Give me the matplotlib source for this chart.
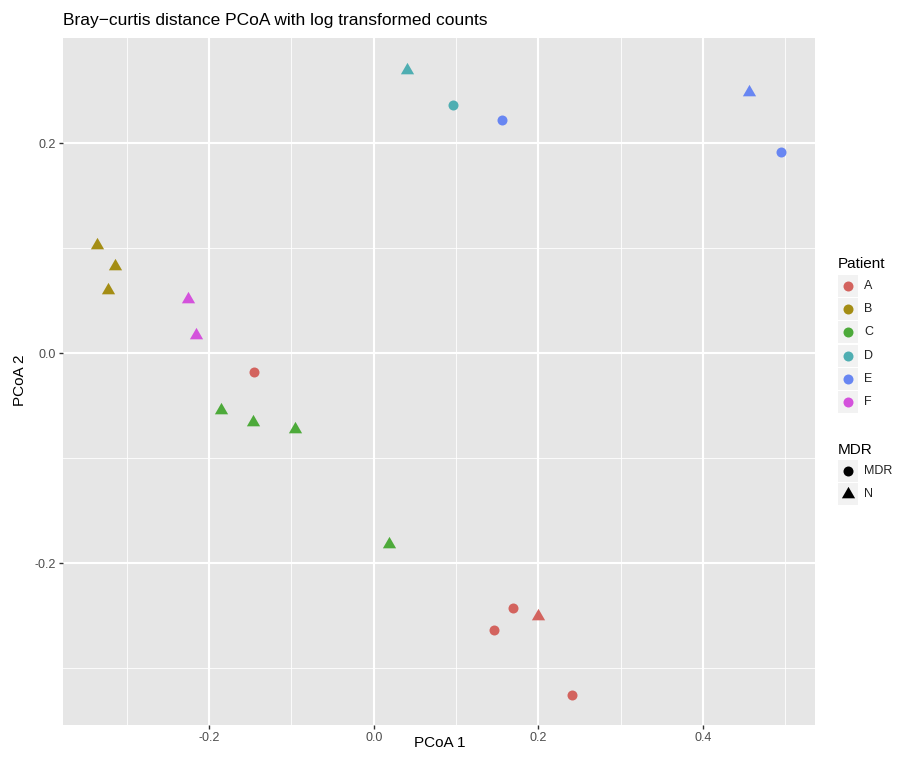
import matplotlib
matplotlib.use("Agg")
import matplotlib.pyplot as plt
from matplotlib.patches import Rectangle
import numpy as np

plt.rcParams['font.family'] = ['Liberation Sans', 'DejaVu Sans']
plt.rcParams['axes.unicode_minus'] = False

# ---- data ----
patients = ["A", "B", "C", "D", "E", "F"]
patient_colors = ["#D3635E", "#A48D14", "#4DAA3A", "#4FAEB2", "#6886F2", "#D452DC"]
mdr_levels = ["MDR", "N"]

sample_patient = ["A", "A", "A", "A", "A",
                  "B", "B", "B",
                  "C", "C", "C", "C",
                  "D", "D",
                  "E", "E", "E",
                  "F", "F"]
sample_mdr = ["MDR", "MDR", "MDR", "MDR", "N",
              "N", "N", "N",
              "N", "N", "N", "N",
              "N", "MDR",
              "MDR", "MDR", "N",
              "N", "N"]
pcoa1 = [-0.145, 0.169, 0.146, 0.241, 0.199,
         -0.336, -0.314, -0.323,
         -0.186, -0.147, -0.096, 0.018,
         0.040, 0.096,
         0.156, 0.495, 0.456,
         -0.226, -0.216]
pcoa2 = [-0.018, -0.243, -0.264, -0.325, -0.250,
         0.103, 0.083, 0.060,
         -0.054, -0.066, -0.072, -0.182,
         0.270, 0.236,
         0.222, 0.191, 0.249,
         0.052, 0.017]

x_ticks = [-0.2, 0.0, 0.2, 0.4]
y_ticks = [-0.2, 0.0, 0.2]

title = "Bray\u2212curtis distance PCoA with log transformed counts"

# ---- figure ----
W, H = 897, 760
fig = plt.figure(figsize=(W / 100, H / 100), dpi=100)
L, R, T, B = 63, 815, 38, 725
ax = fig.add_axes([L / W, 1 - B / H, (R - L) / W, (B - T) / H])

tri = [(-1.0, -0.5774), (1.0, -0.5774), (0.0, 1.1547), (-1.0, -0.5774)]
shape_map = {"MDR": ("o", 7.2), "N": (tri, 11.0)}
cmap = dict(zip(patients, patient_colors))

ax.set_facecolor("#E6E6E6")
for x, y, p, m in zip(pcoa1, pcoa2, sample_patient, sample_mdr):
    mk, ms = shape_map[m]
    ax.plot([x], [y], marker=mk, markersize=ms, color=cmap[p],
            markeredgewidth=0, linestyle="none", zorder=3)

ax.set_xlim(-0.3775, 0.536)
ax.set_ylim(-0.354, 0.300)
ax.set_xticks(x_ticks)
ax.set_yticks(y_ticks)
ax.set_xticklabels([f"{v:.1f}" for v in x_ticks])
ax.set_yticklabels([f"{v:.1f}" for v in y_ticks])
ax.set_xticks([-0.3, -0.1, 0.1, 0.3, 0.5], minor=True)
ax.set_yticks([-0.3, -0.1, 0.1], minor=True)
ax.grid(which="major", color="white", linewidth=1.5, zorder=0)
ax.grid(which="minor", color="white", linewidth=0.6, zorder=0)
ax.set_axisbelow(True)
for s in ax.spines.values():
    s.set_visible(False)
ax.tick_params(which="major", length=3.0, width=1.0, color="#333333",
               labelcolor="#4D4D4D", labelsize=9, pad=2)
ax.tick_params(which="minor", length=0)
fig.text(440 / W, 1 - 743 / H, "PCoA 1", fontsize=11, ha="center", va="center")
fig.text(20 / W, 1 - 380 / H, "PCoA 2", fontsize=11, ha="center", va="center",
         rotation=90)
fig.text(L / W, 1 - 20 / H, title, fontsize=12.5, ha="left", va="center")

# ---- legend (manual, pixel coords) ----
lg = fig.add_axes([0, 0, 1, 1], facecolor="none")
lg.set_xlim(0, W)
lg.set_ylim(H, 0)
lg.axis("off")

lx = 838
lg.text(lx, 264, "Patient", fontsize=11, ha="left", va="center")
y0, dy = 286, 23.2
for i, (p, c) in enumerate(zip(patients, patient_colors)):
    yy = y0 + i * dy
    lg.add_patch(Rectangle((lx, yy - 11), 20, 22, facecolor="#F2F2F2", edgecolor="none"))
    lg.plot([lx + 10], [yy], marker="o", markersize=7.2, color=c, markeredgewidth=0)
    lg.text(lx + 26, yy, p, fontsize=9, ha="left", va="center", color="#222222")

lg.text(lx, 450, "MDR", fontsize=11, ha="left", va="center")
y0 = 471
for i, m in enumerate(mdr_levels):
    yy = y0 + i * dy
    mk, ms = shape_map[m]
    lg.add_patch(Rectangle((lx, yy - 11), 20, 22, facecolor="#F2F2F2", edgecolor="none"))
    lg.plot([lx + 10], [yy], marker=mk, markersize=ms, color="black", markeredgewidth=0)
    lg.text(lx + 26, yy, m, fontsize=9, ha="left", va="center", color="#222222")

fig.savefig("out.png", dpi=100)
